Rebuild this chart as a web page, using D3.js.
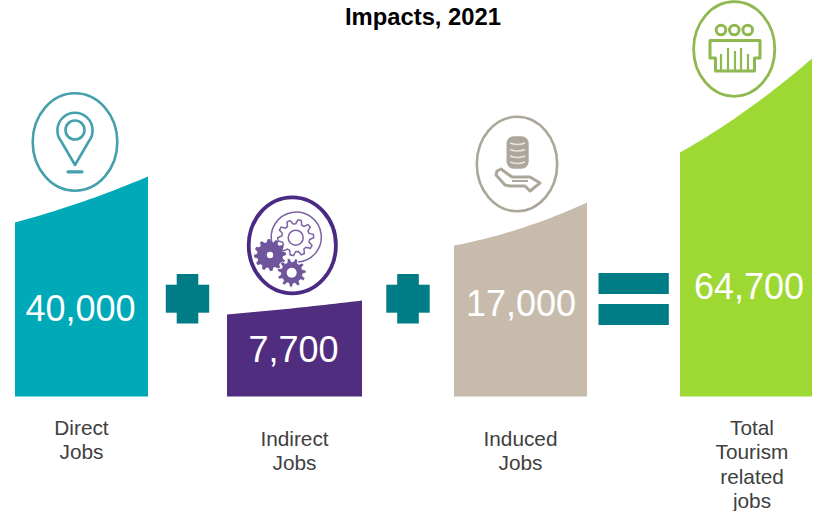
<!DOCTYPE html>
<html>
<head>
<meta charset="utf-8">
<style>
  html, body { margin: 0; padding: 0; background: #fff; }
  svg { display: block; }
  text { font-family: "Liberation Sans", Arial, sans-serif; }
</style>
<script src="https://cdn.jsdelivr.net/npm/d3@7"></script>
</head>
<body>
<svg id="chart" width="817" height="511"></svg>
<script>
// Tourism job impacts, 2021
const categories = ["Direct", "Indirect", "Induced", "Total"];
const jobs = [40000, 7700, 17000, 64700];
const labelLines = [
  ["Direct", "Jobs"],
  ["Indirect", "Jobs"],
  ["Induced", "Jobs"],
  ["Total", "Tourism", "related", "jobs"]
];
const titleText = "Impacts, 2021";

const width = 817, height = 511, baseline = 396.5;
const svg = d3.select("#chart").attr("viewBox", [0, 0, width, height]);

// Category scales: each column has its own left edge, width, colour and top curve
const left = d3.scaleOrdinal(categories, [15, 227, 454, 680]);
const right = d3.scaleOrdinal(categories, [148, 362, 587, 812]);
const fill = d3.scaleOrdinal(categories, ["#00a9b7", "#512d7f", "#c7bcac", "#9dd833"]);
const sag = d3.scaleOrdinal(categories, [2.6, 0.6, 4.5, 5]);
const labelX = d3.scaleOrdinal(categories, [81.5, 294.5, 520.5, 752]);
const valueX = d3.scaleOrdinal(categories, [80.5, 293.5, 521, 749]);
const valueY = d3.scaleOrdinal(categories, [321, 362, 316, 299]);
const labelY = d3.scaleOrdinal(categories, [435, 446, 446, 435]);

// The columns are pictograms, so height follows the jobs through a piecewise scale
const sorted = d3.sort(jobs);
const topRight = d3.scaleLinear().domain(sorted).range([96, 194, 220, 338]);
const topLeft = d3.scaleLinear().domain(sorted).range([82, 151, 174, 244]);

const sweep = d3.range(0, 1.0001, 0.04);
svg.append("g").selectAll("path")
  .data(categories.map((c, i) => ({ c, v: jobs[i] })))
  .join("path")
  .attr("fill", d => fill(d.c))
  .attr("d", d => {
    const hl = topLeft(d.v), hr = topRight(d.v);
    return d3.area()
      .x(t => left(d.c) + (right(d.c) - left(d.c)) * t)
      .y0(baseline)
      .y1(t => baseline - (hl + (hr - hl) * t) + sag(d.c) * 4 * t * (1 - t))(sweep);
  });

// Value labels inside the columns
svg.append("g").selectAll("text")
  .data(categories.map((c, i) => ({ c, v: jobs[i] })))
  .join("text")
  .attr("x", d => valueX(d.c))
  .attr("y", d => valueY(d.c))
  .attr("text-anchor", "middle")
  .attr("font-size", 36)
  .attr("fill", "#fff")
  .text(d => d3.format(",")(d.v));

// Category captions below the columns
const captions = svg.append("g").selectAll("text")
  .data(categories.map((c, i) => ({ c, lines: labelLines[i] })))
  .join("text")
  .attr("text-anchor", "middle")
  .attr("font-size", 20.8)
  .attr("fill", "#404040");
captions.selectAll("tspan")
  .data(d => d.lines.map((line, i) => ({ c: d.c, line, i })))
  .join("tspan")
  .attr("x", d => labelX(d.c))
  .attr("y", d => labelY(d.c) + d.i * 24.3)
  .text(d => d.line);

// Title, bold and centred
svg.append("text")
  .attr("x", 423).attr("y", 25)
  .attr("text-anchor", "middle")
  .attr("font-size", 23.8)
  .attr("font-weight", "bold")
  .attr("fill", "#000")
  .text(titleText);

// Plus and equals signs between the columns
const operatorColor = "#007c87";
const ops = svg.append("g").attr("fill", operatorColor);
[187.5, 408].forEach(cx => {
  ops.append("rect").attr("x", cx - 21.7).attr("y", 284.7).attr("width", 43.4).attr("height", 28);
  ops.append("rect").attr("x", cx - 10.8).attr("y", 274).attr("width", 21.6).attr("height", 49.5);
});
[273, 304].forEach(y => {
  ops.append("rect").attr("x", 598.5).attr("y", y).attr("width", 70.3).attr("height", 21);
});

// Builds a toothed wheel outline centred on the origin
function gear(rOuter, rRoot, teeth) {
  const pts = [];
  const step = Math.PI * 2 / teeth;
  for (let i = 0; i < teeth; i++) {
    const a = i * step;
    [[-0.5, rRoot], [-0.3, rOuter], [0.0, rOuter], [0.2, rRoot]].forEach(([k, r]) => {
      pts.push([Math.cos(a + k * step) * r, Math.sin(a + k * step) * r]);
    });
  }
  return d3.line()(pts) + "Z";
}

function ring(color, cx, cy, rx, ry, sw) {
  return svg.append("ellipse")
    .attr("cx", cx).attr("cy", cy).attr("rx", rx).attr("ry", ry)
    .attr("fill", "#fff").attr("stroke", color).attr("stroke-width", sw);
}

// Location pin badge
const teal = "#43a0ac";
ring(teal, 75, 142, 42.3, 48.7, 2.6);
const pin = svg.append("g").attr("fill", "none").attr("stroke", teal).attr("stroke-width", 2.6);
pin.append("path").attr("d", "M75,165 L61,141 A17.6,17.6 0 1 1 89,141 Z").attr("stroke-linejoin", "round");
pin.append("circle").attr("cx", 75).attr("cy", 130).attr("r", 9.5);
pin.append("path").attr("d", "M68,171.8 H82").attr("stroke-width", 3.2).attr("stroke-linecap", "round");

// Gears badge
ring("#4b2a83", 292.3, 245.3, 43.6, 48, 3.8);
const gears = svg.append("g");
gears.append("path").attr("d", "M272,243 A25,25 0 1 1 298,262")
  .attr("fill", "none").attr("stroke", "#7a62a5").attr("stroke-width", 1.5);
gears.append("path").attr("transform", "translate(295.7,237.7)").attr("d", gear(18, 14, 10))
  .attr("fill", "#fff").attr("stroke", "#7a62a5").attr("stroke-width", 1.5);
gears.append("circle").attr("cx", 295.7).attr("cy", 237.7).attr("r", 7.5)
  .attr("fill", "none").attr("stroke", "#7a62a5").attr("stroke-width", 1.5);
gears.append("path").attr("transform", "translate(270,255)").attr("d", gear(16, 13, 12)).attr("fill", "#6f559b");
gears.append("circle").attr("cx", 270).attr("cy", 255).attr("r", 3.2).attr("fill", "#fff");
gears.append("path").attr("transform", "translate(291.7,272.7)").attr("d", gear(14.5, 11, 11))
  .attr("fill", "#6f559b").attr("stroke", "#fff").attr("stroke-width", 0.8);
gears.append("circle").attr("cx", 291.7).attr("cy", 272.7).attr("r", 5).attr("fill", "#fff");

// Coins in an open hand badge
const stone = "#aca79b";
ring(stone, 517, 164, 40.2, 47.2, 2.6);
const coins = svg.append("g").attr("fill", "none").attr("stroke", stone).attr("stroke-width", 2.6);
coins.append("rect").attr("x", 507.8).attr("y", 137.5).attr("width", 19.6).attr("height", 30)
  .attr("rx", 6).attr("fill", stone);
[143, 149.5, 156, 162].forEach(y => {
  coins.append("path").attr("d", `M510,${y} Q517.6,${y + 3} 525,${y}`)
    .attr("stroke", "#e6e3dc").attr("stroke-width", 1.4);
});
coins.append("path").attr("stroke-linejoin", "round").attr("stroke-width", 3)
  .attr("d", "M497,171 L501,169 L512,177 L530,177 L540,183 L530,191 L525,186 L510,186 L505,185 L496,175 Z");
coins.append("path").attr("d", "M512,181 H528").attr("stroke-width", 2);

// Crowd and stage badge
const leaf = "#8fb850";
ring(leaf, 734.2, 49, 40.6, 47.3, 2.8);
const stage = svg.append("g").attr("fill", "none").attr("stroke", leaf).attr("stroke-width", 3);
[721, 734.3, 747.7].forEach(cx => stage.append("circle").attr("cx", cx).attr("cy", 30).attr("r", 4.8));
stage.append("path").attr("stroke-linejoin", "round")
  .attr("d", "M715.5,58 H710 V40.5 H760 V58 H754.5 V71 H715.5 Z");
[[721, 54], [728, 48], [735, 51], [741, 48], [748, 54]].forEach(([x, y]) => {
  stage.append("path").attr("d", `M${x},${y} V71`).attr("stroke-width", 2.2);
});
</script>
</body>
</html>
